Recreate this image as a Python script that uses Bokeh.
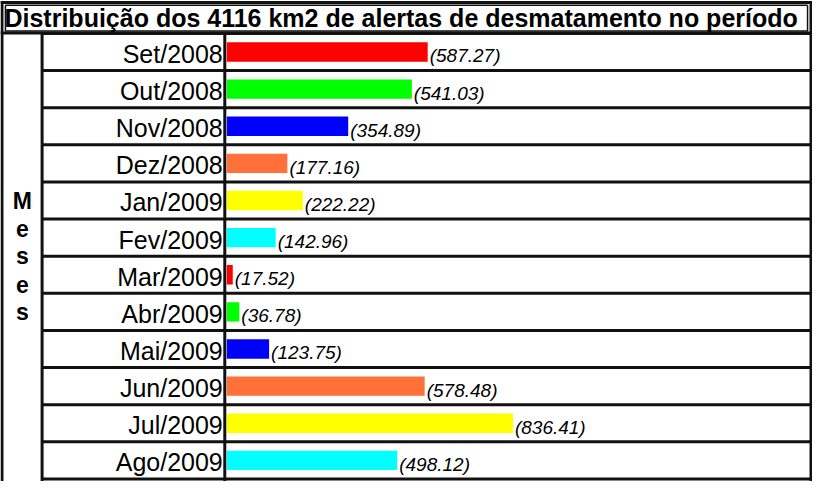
from bokeh.plotting import figure
from bokeh.models import Range1d, ColumnDataSource
from bokeh.core.properties import value
from bokeh.embed import file_html
from bokeh.resources import INLINE

# ---- data ----
months = ["Set/2008", "Out/2008", "Nov/2008", "Dez/2008", "Jan/2009", "Fev/2009",
          "Mar/2009", "Abr/2009", "Mai/2009", "Jun/2009", "Jul/2009", "Ago/2009"]
values = [587.27, 541.03, 354.89, 177.16, 222.22, 142.96,
          17.52, 36.78, 123.75, 578.48, 836.41, 498.12]
colors = ["#FF0000", "#00FF00", "#0000FF", "#FF7138", "#FFFF00", "#00FFFF",
          "#FF0000", "#00FF00", "#0000FF", "#FF7138", "#FFFF00", "#00FFFF"]
title_text = "Distribuição dos 4116 km2 de alertas de desmatamento no período"
axis_title = "Meses"

# ---- layout helpers (reference page pixels -> data space) ----
PX = 0.3455      # pixels per km2
X0 = 236.5       # page x of value 0
ROW0 = 61.2      # page y of first row centre
PITCH = 38.36    # row pitch in pixels


def xd(px):
    return (px - X0) / PX


def yd(py):
    return (py - ROW0) / PITCH


rows = list(range(len(months)))
labels = ["(%.2f)" % v for v in values]

src = ColumnDataSource(dict(y=rows, right=values, color=colors, month=months,
                            label=labels, zero=[0] * len(rows)))

p = figure(width=812, height=481,
           x_range=Range1d(xd(8), xd(828)),
           y_range=Range1d(yd(505), yd(8)),
           output_backend="svg", toolbar_location=None, min_border=0,
           x_axis_type=None, y_axis_type=None)
p.grid.visible = False
p.outline_line_color = None
p.background_fill_color = "white"
p.border_fill_color = "white"

# bars
p.hbar(y="y", left=0, right="right", height=20 / PITCH, color="color",
       line_color=None, source=src)

LC = "#111111"
# row boundaries
n = len(months)
hy = [k - 0.5 for k in range(n + 1)]
p.segment(x0=[xd(50)] * len(hy), x1=[xd(826.5)] * len(hy), y0=hy, y1=hy,
          line_color=LC, line_width=3)
# top border + title bottom
p.segment(x0=[xd(8), xd(8)], x1=[xd(828), xd(828)], y0=[yd(10), yd(41.5)],
          y1=[yd(10), yd(41.5)], line_color=LC, line_width=3)
# vertical lines
p.segment(x0=[xd(9.5), xd(826.5), xd(50), xd(234.5)],
          x1=[xd(9.5), xd(826.5), xd(50), xd(234.5)],
          y0=[yd(8.5), yd(8.5), yd(41.5), yd(41.5)],
          y1=[yd(520)] * 4, line_color=LC, line_width=3)
# thin inner title box
p.segment(x0=[xd(13), xd(13), xd(823), xd(13)],
          x1=[xd(823), xd(13), xd(823), xd(823)],
          y0=[yd(13), yd(13), yd(13), yd(39.5)],
          y1=[yd(13), yd(40), yd(40), yd(39.5)],
          line_color=LC, line_width=1.5)

# title
p.text(x=[xd(12)], y=[yd(26.5)], text=[title_text], text_align="left",
       text_baseline="middle", text_font=value("Liberation Sans"),
       text_font_size="25px", text_font_style="bold", text_color="black")

# month labels
p.text(x="zero", y="y", text="month", source=src, x_offset=-4, y_offset=2,
       text_align="right", text_baseline="middle",
       text_font=value("Liberation Sans"), text_font_size="25px",
       text_color="black")

# value labels
p.text(x="right", y="y", text="label", source=src, x_offset=2, y_offset=4,
       text_align="left", text_baseline="middle",
       text_font=value("Liberation Sans"), text_font_size="19px",
       text_font_style="italic", text_color="black")

# stacked axis title
letters = list(axis_title)
ly = [yd(214.8) + k * 28.75 / PITCH for k in range(len(letters))]
p.text(x=[xd(30)] * len(letters), y=ly, text=letters, text_align="center",
       text_baseline="middle", text_font=value("Liberation Sans"),
       text_font_size="23px", text_font_style="bold", text_color="black")

open("out.html", "w").write(file_html(p, INLINE))
